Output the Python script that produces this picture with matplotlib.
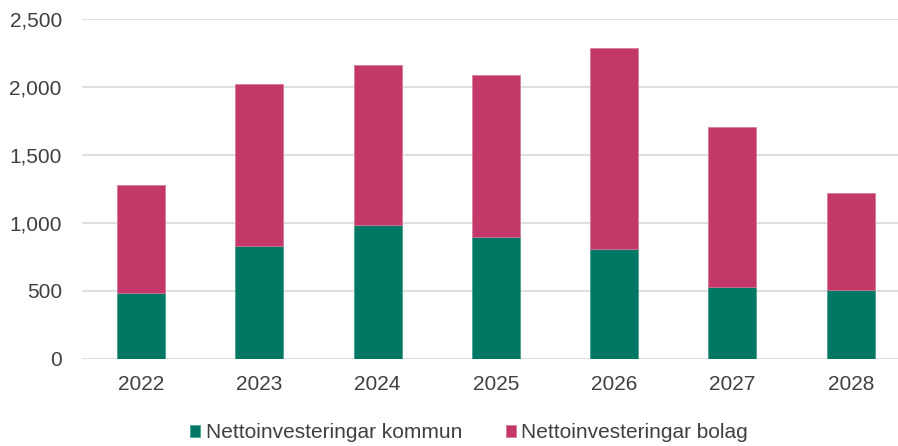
import matplotlib.pyplot as plt
import numpy as np

plt.rcParams['font.family'] = ['Liberation Sans', 'DejaVu Sans']

years = ['2022', '2023', '2024', '2025', '2026', '2027', '2028']
kommun = [480, 833, 985, 892, 811, 529, 502]
total = [1275, 2025, 2162, 2088, 2287, 1706, 1216]
bolag = [t - k for t, k in zip(total, kommun)]

labels = ['Nettoinvesteringar kommun', 'Nettoinvesteringar bolag']
colors = ['#007863', '#C33769']
text_color = '#404040'

fig = plt.figure(figsize=(8.98, 4.46), dpi=100)
ax = fig.add_axes([82 / 898, 1 - 358.7 / 446, (898 - 82) / 898, (358.7 - 19) / 446])

x = np.arange(len(years))
w = 0.405
ax.bar(x, kommun, width=w, color=colors[0], edgecolor='#3f9a89', linewidth=0.5,
       label=labels[0], zorder=3)
ax.bar(x, bolag, width=w, bottom=kommun, color=colors[1], edgecolor='#d8769b',
       linewidth=0.5, label=labels[1], zorder=3)

ax.set_xlim(-0.5, 6.40)
ax.set_ylim(0, 2500)
ax.set_yticks(np.arange(0, 2501, 500))
ax.yaxis.set_major_formatter(plt.FuncFormatter(lambda v, p: f'{int(v):,}'))
ax.set_xticks(x)
ax.set_xticklabels(years)

ax.grid(axis='y', color='#D9D9D9', linewidth=1.2, zorder=0)
ax.set_axisbelow(True)
for s in ax.spines.values():
    s.set_visible(False)
ax.tick_params(axis='both', length=0, labelsize=15, colors=text_color)
ax.tick_params(axis='y', pad=14.5)
ax.tick_params(axis='x', pad=12)

fig.legend(loc='center', bbox_to_anchor=(469 / 898, 1 - 433 / 446), ncol=2,
           frameon=False, fontsize=15, handlelength=0.5, handleheight=0.5,
           handletextpad=0.25, columnspacing=2.1, labelcolor=text_color)

plt.savefig('out.png', dpi=100)
